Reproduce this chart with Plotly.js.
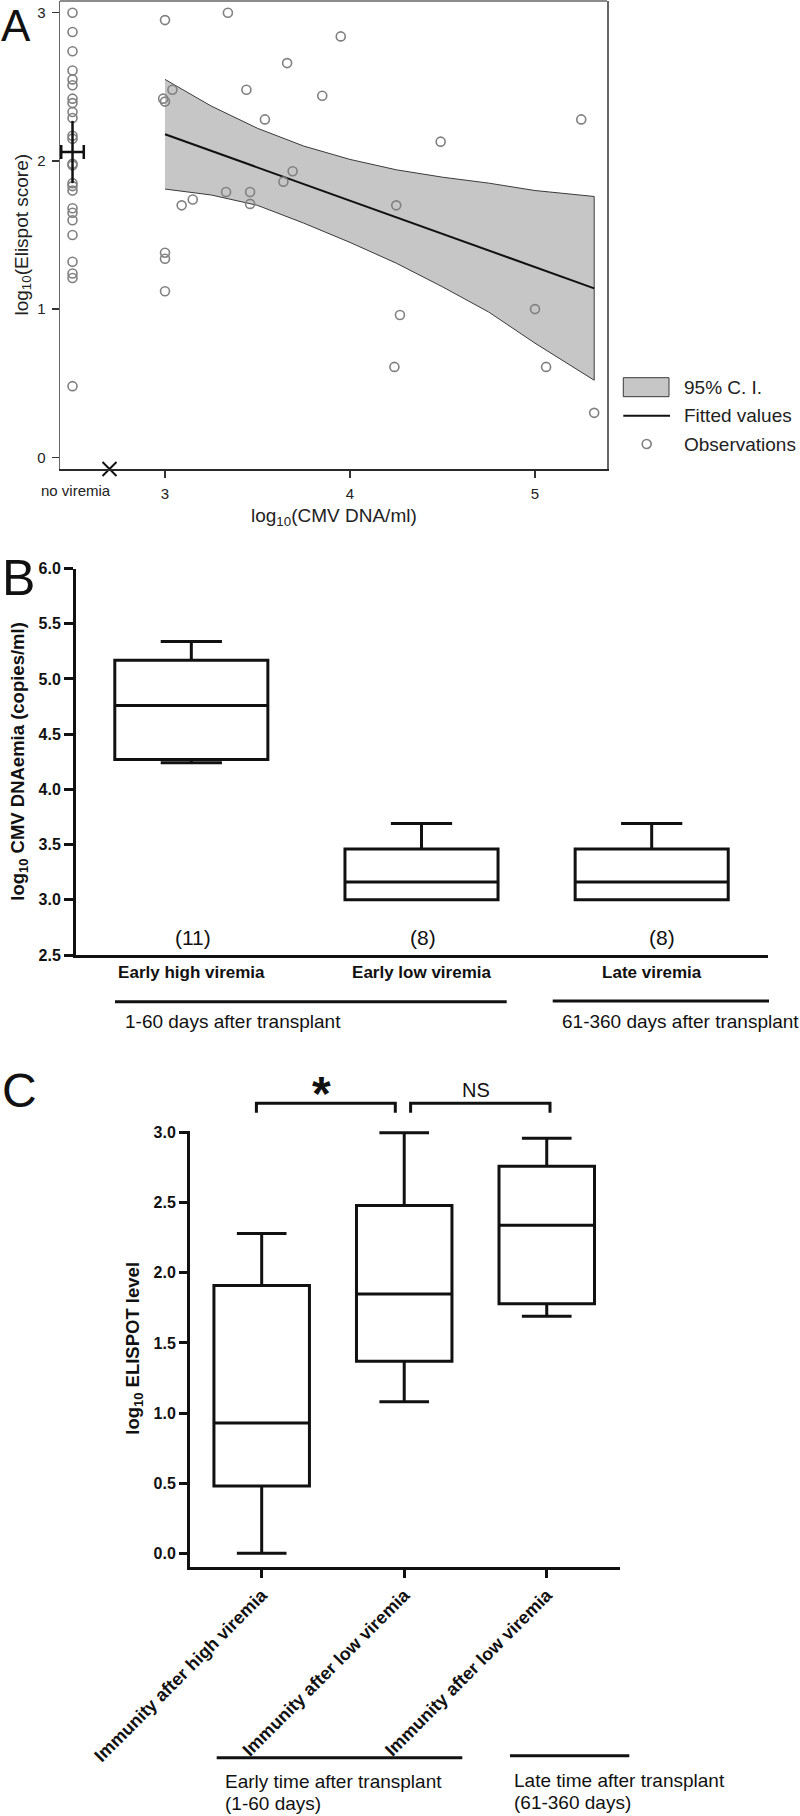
<!DOCTYPE html>
<html><head><meta charset="utf-8">
<script src="https://cdn.plot.ly/plotly-3.0.1.min.js"></script>
<style>html,body{margin:0;padding:0;background:#fff}#chart{width:800px;height:1816px}</style>
</head><body><div id="chart"></div>
<script>
// ---------- Panel A data ----------
const aNoViremiaY = [3.00, 2.87, 2.74, 2.61, 2.55, 2.51, 2.42, 2.39, 2.33, 2.29, 2.17, 2.15, 1.98, 1.97, 1.85, 1.83, 1.80, 1.68, 1.65, 1.60, 1.50, 1.32, 1.24, 1.21, 0.48];
const aNoViremiaPos = 2.5;
const aViremiaX = [3.00, 3.34, 3.04, 2.99, 3.00, 3.44, 3.66, 3.95, 3.85, 3.54, 4.49, 5.25, 3.69, 3.64, 3.33, 3.46, 3.46, 3.15, 3.09, 4.25, 3.00, 3.00, 3.00, 4.27, 4.24, 5.00, 5.06, 5.32];
const aViremiaY = [2.95, 3.00, 2.48, 2.42, 2.40, 2.48, 2.66, 2.84, 2.44, 2.28, 2.13, 2.28, 1.93, 1.86, 1.79, 1.79, 1.71, 1.74, 1.70, 1.70, 1.38, 1.34, 1.12, 0.96, 0.61, 1.00, 0.61, 0.30];
const aFitX = [3.00, 5.32];
const aFitY = [2.18, 1.14];
const aCiX = [3.00, 3.25, 3.50, 3.75, 4.00, 4.25, 4.50, 4.75, 5.00, 5.32];
const aCiUpper = [2.55, 2.37, 2.22, 2.10, 2.01, 1.94, 1.89, 1.85, 1.80, 1.76];
const aCiLower = [1.81, 1.77, 1.70, 1.58, 1.45, 1.31, 1.15, 0.98, 0.77, 0.52];
const aMeanY = [2.06];
const aMeanErrY = [0.21];
const aMeanErrX = [0.061];
const aMarkX = [2.7];
const aMarkY = [-0.079];
const aXTicks = [3, 4, 5];
const aYTicks = [0, 1, 2, 3];
const aLegendLabels = ['95% C. I.', 'Fitted values', 'Observations'];

// ---------- Panel B data ----------
const bCategories = ['Early high viremia', 'Early low viremia', 'Late viremia'];
const bLower  = [4.24, 3.00, 3.00];
const bQ1     = [4.27, 3.00, 3.00];
const bMedian = [4.76, 3.16, 3.16];
const bQ3     = [5.17, 3.46, 3.46];
const bUpper  = [5.34, 3.69, 3.69];
const bCounts = ['(11)', '(8)', '(8)'];
const bGroups = ['1-60 days after transplant', '61-360 days after transplant'];

// ---------- Panel C data ----------
const cCategories = ['Immunity after high viremia', 'Immunity after low viremia', 'Immunity after low viremia'];
const cLower  = [0.00, 1.08, 1.69];
const cQ1     = [0.48, 1.37, 1.78];
const cMedian = [0.93, 1.85, 2.34];
const cQ3     = [1.91, 2.48, 2.76];
const cUpper  = [2.28, 3.00, 2.96];
const cGroups = [['Early time after transplant', '(1-60 days)'], ['Late time after transplant', '(61-360 days)']];
const cTests = ['*', 'NS'];

// ---------- helpers (pixel -> paper) ----------
const W = 800, H = 1816;
const px = x => x / W;
const py = y => 1 - y / H;
const FONT = 'Liberation Sans, Arial, Helvetica, sans-serif';
const idx = a => a.map((_, i) => i);

const traces = [
  {type: 'scatter', xaxis: 'x', yaxis: 'y', x: aCiX.concat(aCiX.slice().reverse()),
   y: aCiUpper.concat(aCiLower.slice().reverse()), mode: 'lines', fill: 'toself',
   fillcolor: '#c6c6c6', line: {color: '#3a3a3a', width: 1}, showlegend: false, hoverinfo: 'skip'},
  {type: 'scatter', xaxis: 'x', yaxis: 'y', x: aFitX, y: aFitY, mode: 'lines',
   line: {color: '#111', width: 2}, showlegend: false},
  {type: 'scatter', xaxis: 'x', yaxis: 'y', x: aViremiaX, y: aViremiaY, mode: 'markers',
   marker: {symbol: 'circle-open', size: 9, color: '#808080', line: {width: 1.6}}, showlegend: false},
  {type: 'scatter', xaxis: 'x', yaxis: 'y', x: aNoViremiaY.map(() => aNoViremiaPos), y: aNoViremiaY, mode: 'markers',
   marker: {symbol: 'circle-open', size: 9, color: '#808080', line: {width: 1.6}}, showlegend: false},
  {type: 'scatter', xaxis: 'x', yaxis: 'y', x: [aNoViremiaPos], y: aMeanY, mode: 'markers',
   marker: {size: 1, color: 'rgba(0,0,0,0)'},
   error_y: {type: 'data', array: aMeanErrY, color: '#111', thickness: 2.5, width: 0},
   error_x: {type: 'data', array: aMeanErrX, color: '#111', thickness: 2.5, width: 7},
   showlegend: false},
  {type: 'scatter', xaxis: 'x', yaxis: 'y', x: aMarkX, y: aMarkY, mode: 'markers', cliponaxis: false,
   marker: {symbol: 'x-thin-open', size: 14, color: '#111', line: {width: 2, color: '#111'}}, showlegend: false},
  {type: 'box', xaxis: 'x2', yaxis: 'y2', x: idx(bCategories), q1: bQ1, median: bMedian, q3: bQ3,
   lowerfence: bLower, upperfence: bUpper, width: 0.665, whiskerwidth: 0.4, boxpoints: false,
   fillcolor: '#ffffff', line: {color: '#111', width: 3}, showlegend: false},
  {type: 'box', xaxis: 'x3', yaxis: 'y3', x: idx(cCategories), q1: cQ1, median: cMedian, q3: cQ3,
   lowerfence: cLower, upperfence: cUpper, width: 0.67, whiskerwidth: 0.52, boxpoints: false,
   fillcolor: '#ffffff', line: {color: '#111', width: 3}, showlegend: false}
];

const shapes = [
  {type: 'line', xref: 'paper', yref: 'paper', x0: px(60), x1: px(607), y0: py(1), y1: py(1), line: {color: '#666', width: 1.5}},
  {type: 'rect', xref: 'paper', yref: 'paper', x0: px(623.3), x1: px(669), y0: py(396.7), y1: py(377.7), fillcolor: '#c6c6c6', line: {color: '#3a3a3a', width: 1}},
  {type: 'line', xref: 'paper', yref: 'paper', x0: px(623.3), x1: px(670), y0: py(415.7), y1: py(415.7), line: {color: '#111', width: 2}},
  {type: 'circle', xref: 'paper', yref: 'paper', x0: px(642.2), x1: px(651.2), y0: py(448.5), y1: py(439.5), line: {color: '#808080', width: 1.6}},
  {type: 'line', xref: 'paper', yref: 'paper', x0: px(115), x1: px(506.7), y0: py(1001.7), y1: py(1001.7), line: {color: '#111', width: 3}},
  {type: 'line', xref: 'paper', yref: 'paper', x0: px(552.7), x1: px(769), y0: py(1001), y1: py(1001), line: {color: '#111', width: 3}},
  {type: 'path', xref: 'paper', yref: 'paper', path: `M ${px(256.4)} ${py(1112.7)} L ${px(256.4)} ${py(1103.3)} L ${px(395.3)} ${py(1103.3)} L ${px(395.3)} ${py(1112.7)}`, line: {color: '#111', width: 3}},
  {type: 'path', xref: 'paper', yref: 'paper', path: `M ${px(410.6)} ${py(1112.7)} L ${px(410.6)} ${py(1103.3)} L ${px(550)} ${py(1103.3)} L ${px(550)} ${py(1112.7)}`, line: {color: '#111', width: 3}},
  {type: 'line', xref: 'paper', yref: 'paper', x0: px(216.7), x1: px(462.3), y0: py(1757.7), y1: py(1757.7), line: {color: '#111', width: 3}},
  {type: 'line', xref: 'paper', yref: 'paper', x0: px(510), x1: px(629.3), y0: py(1755.7), y1: py(1755.7), line: {color: '#111', width: 3}}
];

function ann(text, x, y, size, opts) {
  return Object.assign({text: text, xref: 'paper', yref: 'paper', x: px(x), y: py(y), showarrow: false,
    xanchor: 'center', yanchor: 'middle', font: {family: FONT, size: size, color: '#111'}}, opts || {});
}

const annotations = [
  ann('A', 0, 0, 44, {xanchor: 'left', yanchor: 'top', borderpad: 0}),
  ann('B', 0, 578.5, 50, {xanchor: 'left'}),
  ann('C', 0, 1090.5, 48, {xanchor: 'left'}),
  ann('log<sub>10</sub>(Elispot score)', 22.5, 235, 19, {textangle: -90, font: {family: FONT, size: 19, color: '#222'}}),
  ann('log<sub>10</sub>(CMV DNA/ml)', 334, 517, 19, {font: {family: FONT, size: 19, color: '#222'}}),
  ann('no viremia', 75.8, 490, 15, {font: {family: FONT, size: 15, color: '#222'}}),
  ann(aLegendLabels[0], 681.7, 387.3, 19, {xanchor: 'left', font: {family: FONT, size: 19, color: '#222'}}),
  ann(aLegendLabels[1], 681.7, 415.7, 19, {xanchor: 'left', font: {family: FONT, size: 19, color: '#222'}}),
  ann(aLegendLabels[2], 681.7, 444, 19, {xanchor: 'left', font: {family: FONT, size: 19, color: '#222'}}),
  ann('<b>log<sub>10</sub> CMV DNAemia (copies/ml)</b>', 19, 761.75, 18.5, {textangle: -90}),
  ann(bCounts[0], 192.7, 938, 21),
  ann(bCounts[1], 423, 938, 21),
  ann(bCounts[2], 661.7, 938, 21),
  ann(bGroups[0], 122.7, 1021.7, 19, {xanchor: 'left'}),
  ann(bGroups[1], 560, 1021.7, 19, {xanchor: 'left'}),
  ann('<b>log<sub>10</sub> ELISPOT level</b>', 134, 1348.7, 18.5, {textangle: -90}),
  ann('<b>' + cTests[0] + '</b>', 321.5, 1093, 48),
  ann(cTests[1], 475.7, 1090, 20),
  ann(cGroups[0][0], 222.7, 1781.7, 19, {xanchor: 'left'}),
  ann(cGroups[0][1], 222.7, 1803.3, 19, {xanchor: 'left'}),
  ann(cGroups[1][0], 511.7, 1780, 19, {xanchor: 'left'}),
  ann(cGroups[1][1], 511.7, 1802.7, 19, {xanchor: 'left'})
];

const layout = {
  width: W, height: H, margin: {l: 0, r: 0, t: 0, b: 0}, showlegend: false,
  paper_bgcolor: '#fff', plot_bgcolor: 'rgba(0,0,0,0)', font: {family: FONT, color: '#111'},
  xaxis: {domain: [px(60), px(607)], anchor: 'y', range: [2.4324, 5.3892], tickvals: aXTicks,
    ticks: 'outside', ticklen: 7, tickwidth: 1.5, tickcolor: '#333', showline: true, linecolor: '#2a2a2a', linewidth: 2,
    showgrid: false, zeroline: false, ticklabelstandoff: 3, tickfont: {family: FONT, size: 15, color: '#222'}},
  yaxis: {domain: [py(469), py(1)], anchor: 'x', range: [-0.079, 3.079], tickvals: aYTicks,
    ticks: 'outside', ticklen: 7, tickwidth: 1.5, tickcolor: '#333', showline: true, linecolor: '#666', linewidth: 1.5, mirror: true,
    showgrid: false, zeroline: false, ticklabelstandoff: 3, tickfont: {family: FONT, size: 15, color: '#222'}},
  xaxis2: {domain: [px(76), px(767.7)], anchor: 'y2', range: [-0.501, 2.504], tickvals: idx(bCategories), ticktext: bCategories,
    ticks: '', showline: true, linecolor: '#111', linewidth: 3, showgrid: false, zeroline: false,
    tickfont: {family: FONT, size: 17, color: '#111', weight: 'bold'}},
  yaxis2: {domain: [py(955), py(568.5)], anchor: 'x2', range: [2.5, 6.0], dtick: 0.5, tick0: 2.5, tickformat: '.1f',
    ticks: 'outside', ticklen: 9, tickwidth: 3, tickcolor: '#111', showline: true, linecolor: '#111', linewidth: 3,
    showgrid: false, zeroline: false, tickfont: {family: FONT, size: 16, color: '#111', weight: 'bold'}},
  xaxis3: {domain: [px(190), px(620)], anchor: 'y3', range: [-0.503, 2.514], tickvals: idx(cCategories), ticktext: cCategories,
    tickangle: -45, ticks: 'outside', ticklen: 8, tickwidth: 3, tickcolor: '#111', showline: true, linecolor: '#111', linewidth: 3,
    showgrid: false, zeroline: false, tickfont: {family: FONT, size: 18, color: '#111', weight: 'bold'}},
  yaxis3: {domain: [py(1566.7), py(1130.7)], anchor: 'x3', range: [-0.0956, 3.014], dtick: 0.5, tick0: 0, tickformat: '.1f',
    ticks: 'outside', ticklen: 8, tickwidth: 3, tickcolor: '#111', showline: true, linecolor: '#111', linewidth: 3,
    showgrid: false, zeroline: false, tickfont: {family: FONT, size: 16, color: '#111', weight: 'bold'}},
  shapes: shapes,
  annotations: annotations
};

Plotly.newPlot('chart', traces, layout, {staticPlot: true, displayModeBar: false});
</script>
</body></html>
